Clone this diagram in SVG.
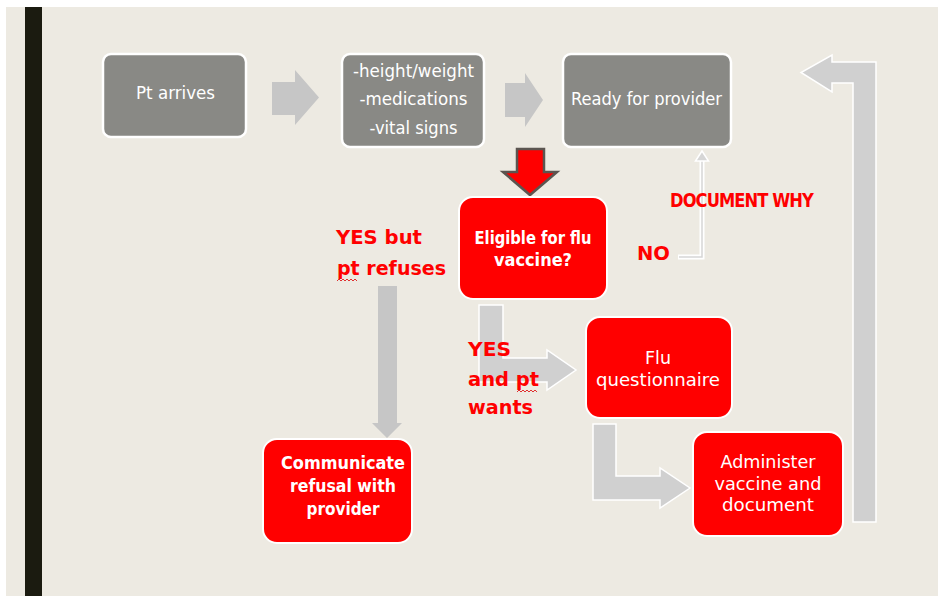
<svg xmlns="http://www.w3.org/2000/svg" width="938" height="596" viewBox="0 0 938 596">
  <style>
    .grey-box { fill: #898985; stroke: #ffffff; stroke-width: 2.5; }
    .red-box { fill: #ff0000; stroke: #ffffff; stroke-width: 2; }
    .box-text { font-family: "Liberation Sans Narrow", "DejaVu Sans Condensed", "Liberation Sans", sans-serif; font-size: 18px; fill: #ffffff; text-anchor: middle; }
    .bold { font-weight: bold; }
    .label { font-family: "Liberation Sans Narrow", "DejaVu Sans Condensed", "Liberation Sans", sans-serif; font-weight: bold; fill: #ff0000; font-size: 20px; }
    .flow-arrow { fill: #c6c6c6; }
    .bent-arrow { fill: #d0d0d0; stroke: #ffffff; stroke-width: 1.5; stroke-linejoin: miter; }
    .squiggle { fill: none; stroke: #e03030; stroke-width: 1; }
  </style>

  <!-- slide background -->
  <rect x="0" y="0" width="938" height="596" fill="#ffffff"/>
  <rect x="6" y="7" width="932" height="589" fill="#edeae2"/>
  <rect x="25" y="7" width="17" height="589" fill="#1b1b10"/>

  <!-- connectors -->
  <g id="connectors">
    <path class="flow-arrow" d="M272,82 L295,82 L295,70 L319,97.5 L295,125 L295,115 L272,115 Z"/>
    <path class="flow-arrow" d="M505,83 L525,83 L525,73 L543,100 L525,127 L525,117 L505,117 Z"/>
    <path d="M517,149 L544,149 L544,172 L557,172 L530,195 L503,172 L517,172 Z" fill="#ff0000" stroke="#5b5550" stroke-width="2.5" stroke-linejoin="miter"/>
    <path class="flow-arrow" d="M378,286 L397,286 L397,423 L402,423 L387,438 L372,423 L378,423 Z"/>
    <path class="bent-arrow" d="M479,305 L503,305 L503,358 L547,358 L547,350 L576,370 L547,390 L547,382 L479,382 Z"/>
    <path class="bent-arrow" d="M593,424 L616,424 L616,476 L660,476 L660,468 L690,488 L660,508 L660,500 L593,500 Z"/>
    <path class="bent-arrow" d="M853,522 L853,83 L832,83 L832,92 L801,72.5 L832,55 L832,62 L876,62 L876,522 Z"/>
    <!-- thin return line from NO up to the provider box -->
    <polyline points="678,257 702,257 702,158" fill="none" stroke="#ffffff" stroke-width="5"/>
    <polyline points="679,257 702,257 702,158" fill="none" stroke="#d6d6d6" stroke-width="1.5"/>
    <polygon points="695.5,161 702,151 708.5,161" fill="#d6d6d6" stroke="#ffffff" stroke-width="1.5"/>
  </g>

  <g id="pt-arrives">
    <rect class="grey-box" x="103" y="54" width="143" height="83" rx="8"/>
    <text class="box-text" x="175.5" y="99" textLength="79" lengthAdjust="spacingAndGlyphs">Pt arrives</text>
  </g>

  <g id="vitals">
    <rect class="grey-box" x="342" y="54" width="142" height="93" rx="8"/>
    <text class="box-text" x="413.5" y="77" textLength="121" lengthAdjust="spacingAndGlyphs">-height/weight</text>
    <text class="box-text" x="413.5" y="105" textLength="108" lengthAdjust="spacingAndGlyphs">-medications</text>
    <text class="box-text" x="413.5" y="134" textLength="88" lengthAdjust="spacingAndGlyphs">-vital signs</text>
  </g>

  <g id="ready-for-provider">
    <rect class="grey-box" x="563" y="54" width="168" height="93" rx="8"/>
    <text class="box-text" x="646.5" y="105" textLength="151" lengthAdjust="spacingAndGlyphs">Ready for provider</text>
  </g>

  <g id="eligible">
    <rect class="red-box" x="459" y="197" width="148" height="102" rx="14"/>
    <text class="box-text bold" x="533" y="244" font-size="17" textLength="117" lengthAdjust="spacingAndGlyphs">Eligible for flu</text>
    <text class="box-text bold" x="533" y="266" font-size="17" textLength="78" lengthAdjust="spacingAndGlyphs">vaccine?</text>
  </g>

  <g id="communicate-refusal">
    <rect class="red-box" x="263" y="439" width="149" height="104" rx="14"/>
    <text class="box-text bold" x="343" y="469" font-size="17" textLength="124" lengthAdjust="spacingAndGlyphs">Communicate</text>
    <text class="box-text bold" x="343" y="492" font-size="17" textLength="106" lengthAdjust="spacingAndGlyphs">refusal with</text>
    <text class="box-text bold" x="343" y="515" font-size="17" textLength="73" lengthAdjust="spacingAndGlyphs">provider</text>
  </g>

  <g id="flu-questionnaire">
    <rect class="red-box" x="586" y="317" width="146" height="101" rx="14"/>
    <text class="box-text" x="658" y="364" font-size="17" textLength="26" lengthAdjust="spacingAndGlyphs">Flu</text>
    <text class="box-text" x="658" y="386" font-size="17" textLength="124" lengthAdjust="spacingAndGlyphs">questionnaire</text>
  </g>

  <g id="administer">
    <rect class="red-box" x="693" y="432" width="150" height="104" rx="14"/>
    <text class="box-text" x="768" y="468" font-size="17" textLength="95" lengthAdjust="spacingAndGlyphs">Administer</text>
    <text class="box-text" x="768" y="490" font-size="17" textLength="107" lengthAdjust="spacingAndGlyphs">vaccine and</text>
    <text class="box-text" x="768" y="511" font-size="17" textLength="92" lengthAdjust="spacingAndGlyphs">document</text>
  </g>

  <!-- branch labels -->
  <g id="labels">
    <text class="label" x="336" y="244" textLength="86" lengthAdjust="spacingAndGlyphs">YES but</text>
    <text class="label" x="337" y="275" textLength="109" lengthAdjust="spacingAndGlyphs">pt refuses</text>
    <path class="squiggle" d="M337,281 l2,-2 l2,2 l2,-2 l2,2 l2,-2 l2,2 l2,-2 l2,2 l2,-2 l2,2"/>
    <text class="label" x="468" y="356" textLength="43" lengthAdjust="spacingAndGlyphs">YES</text>
    <text class="label" x="468" y="386" textLength="71" lengthAdjust="spacingAndGlyphs">and pt</text>
    <path class="squiggle" d="M517,392 l2,-2 l2,2 l2,-2 l2,2 l2,-2 l2,2 l2,-2 l2,2 l2,-2 l2,2"/>
    <text class="label" x="468" y="414" textLength="65" lengthAdjust="spacingAndGlyphs">wants</text>
    <text class="label" x="670" y="207" font-size="17" textLength="143" lengthAdjust="spacingAndGlyphs" letter-spacing="-1">DOCUMENT WHY</text>
    <text class="label" x="637" y="260" textLength="33" lengthAdjust="spacingAndGlyphs">NO</text>
  </g>
</svg>
